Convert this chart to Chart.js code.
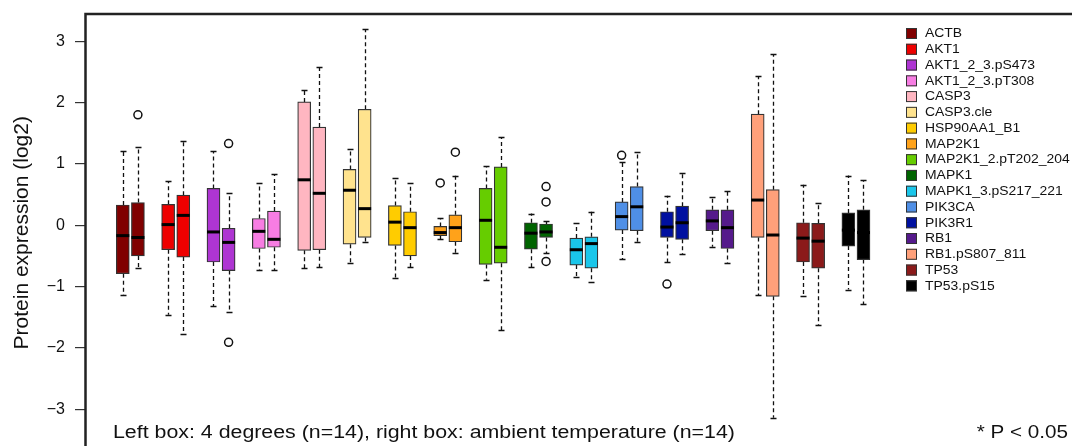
<!DOCTYPE html>
<html>
<head>
<meta charset="utf-8">
<script src="https://cdn.jsdelivr.net/npm/chart.js@4.4.0/dist/chart.umd.min.js"></script>
<style>
  html, body { margin: 0; padding: 0; background: #fff; overflow: hidden; }
  #wrap { width: 1072px; height: 446px; overflow: hidden; }
  canvas { display: block; }
</style>
</head>
<body>
<div id="wrap"><canvas id="boxChart" width="1090" height="457"></canvas></div>
<script>
// Proteins and their colours
const proteins = ['ACTB', 'AKT1', 'AKT1_2_3.pS473', 'AKT1_2_3.pT308', 'CASP3', 'CASP3.cle',
    'HSP90AA1_B1', 'MAP2K1', 'MAP2K1_2.pT202_204', 'MAPK1', 'MAPK1_3.pS217_221',
    'PIK3CA', 'PIK3R1', 'RB1', 'RB1.pS807_811', 'TP53', 'TP53.pS15'];
const boxColors = ['#800000', '#EE0000', '#AE35D2', '#F77DE3', '#FFB6C1', '#FFE38E',
    '#FFCC00', '#FFA21A', '#66CD00', '#006400', '#1AC6EA',
    '#4F8FE6', '#0010A0', '#551A8B', '#FFA07A', '#8B1A1A', '#000000'];

// Left box: 4 degrees
const coldLow = [-1.14, -1.46, -1.32, -0.73, -0.70, -0.61, -0.86, -0.23, -0.89, -0.68, -0.84, -0.55, -0.60, -0.35, -1.14, -1.16, -1.05];
const coldQ1 = [-0.79, -0.40, -0.60, -0.38, -0.41, -0.31, -0.33, -0.17, -0.64, -0.39, -0.65, -0.08, -0.20, -0.09, -0.20, -0.60, -0.34];
const coldMed = [-0.17, 0.01, -0.11, -0.10, 0.74, 0.57, 0.05, -0.12, 0.08, -0.13, -0.40, 0.14, -0.03, 0.07, 0.41, -0.21, -0.08];
const coldQ3 = [0.33, 0.34, 0.60, 0.11, 2.01, 0.91, 0.32, -0.02, 0.60, 0.04, -0.21, 0.38, 0.22, 0.25, 1.81, 0.04, 0.20];
const coldHigh = [1.21, 0.72, 1.21, 0.69, 2.20, 1.24, 0.77, 0.11, 0.96, 0.19, 0.03, 1.03, 0.48, 0.46, 2.43, 0.66, 0.81];
const coldOutliers = [[], [], [], [], [], [], [], [0.69], [], [], [], [1.14], [-0.96], [], [], [], []];

// Right box: ambient temperature
const ambLow = [-0.70, -1.77, -1.41, -0.73, -0.68, -0.27, -0.68, -0.45, -1.71, -0.46, -0.92, -0.27, -0.47, -0.62, -3.14, -1.63, -1.29];
const ambQ1 = [-0.50, -0.52, -0.74, -0.36, -0.40, -0.20, -0.50, -0.27, -0.62, -0.20, -0.70, -0.09, -0.23, -0.38, -1.16, -0.70, -0.56];
const ambMed = [-0.20, 0.16, -0.28, -0.23, 0.52, 0.27, -0.04, -0.04, -0.36, -0.11, -0.30, 0.30, 0.04, -0.04, -0.16, -0.26, -0.12];
const ambQ3 = [0.37, 0.49, -0.05, 0.23, 1.60, 1.89, 0.22, 0.17, 0.95, 0.02, -0.19, 0.63, 0.31, 0.25, 0.58, 0.03, 0.25];
const ambHigh = [1.27, 1.37, 0.52, 0.83, 2.58, 3.20, 0.68, 0.81, 1.43, 0.07, 0.22, 1.20, 0.85, 0.55, 2.79, 0.36, 0.73];
const ambOutliers = [[1.80], [], [1.33, -1.91], [], [], [], [], [1.19], [], [0.63, 0.38, -0.59], [], [], [], [], [], [], []];

const yTicks = [-3, -2, -1, 0, 1, 2, 3];

const FONT = "'Liberation Sans', Arial, Helvetica, sans-serif";
Chart.defaults.font.family = FONT;
Chart.defaults.color = '#111';

// each protein gets two slots (left/right) plus one empty slot
const boxes = [];
const outlierPoints = [];
proteins.forEach((p, i) => {
    const sides = [
        [coldLow, coldQ1, coldMed, coldQ3, coldHigh, coldOutliers],
        [ambLow, ambQ1, ambMed, ambQ3, ambHigh, ambOutliers]
    ];
    sides.forEach((s, k) => {
        const x = i * 3 + 1 + k;
        boxes.push({ x: x, lo: s[0][i], q1: s[1][i], med: s[2][i], q3: s[3][i], hi: s[4][i], color: boxColors[i] });
        s[5][i].forEach(v => outlierPoints.push({ x: x, y: v }));
    });
});

const BOX_W = 13;

// the source figure is a bit wider than Arial, so texts get a small x-stretch
function wideText(ctx, text, x, y, sx, align) {
    ctx.save();
    ctx.translate(x, y);
    ctx.scale(sx, 1);
    ctx.textAlign = align || 'left';
    ctx.fillText(text, 0, 0);
    ctx.restore();
}

const boxPlotPlugin = {
    id: 'boxParts',
    beforeDatasetsDraw(chart) {
        const { ctx, scales: { x, y } } = chart;
        ctx.save();
        ctx.strokeStyle = '#111';
        ctx.lineWidth = 1.3;
        boxes.forEach(b => {
            const px = Math.round(x.getPixelForValue(b.x)) + 0.5;
            ctx.setLineDash([4, 3]);
            ctx.beginPath();
            ctx.moveTo(px, y.getPixelForValue(b.q3));
            ctx.lineTo(px, y.getPixelForValue(b.hi));
            ctx.moveTo(px, y.getPixelForValue(b.q1));
            ctx.lineTo(px, y.getPixelForValue(b.lo));
            ctx.stroke();
            ctx.setLineDash([]);
            ctx.beginPath();
            [b.hi, b.lo].forEach(v => {
                const py = Math.round(y.getPixelForValue(v)) + 0.5;
                ctx.moveTo(px - 3, py);
                ctx.lineTo(px + 3, py);
            });
            ctx.stroke();
        });
        ctx.restore();
    },
    afterDatasetsDraw(chart) {
        const { ctx, scales: { x, y } } = chart;
        ctx.save();
        ctx.strokeStyle = '#000';
        ctx.lineWidth = 3;
        boxes.forEach(b => {
            const px = x.getPixelForValue(b.x);
            const py = y.getPixelForValue(b.med);
            ctx.beginPath();
            ctx.moveTo(px - BOX_W / 2, py);
            ctx.lineTo(px + BOX_W / 2, py);
            ctx.stroke();
        });
        ctx.restore();
    },
    afterDraw(chart) {
        const { ctx, chartArea: a } = chart;
        ctx.save();
        // plot frame (right and bottom edges fall outside the picture)
        ctx.strokeStyle = '#222';
        ctx.lineWidth = 2.5;
        ctx.strokeRect(a.left - 0.5, a.top, a.right - a.left + 20, a.bottom - a.top + 20);

        // legend
        ctx.font = '12px ' + FONT;
        ctx.textBaseline = 'middle';
        proteins.forEach((p, i) => {
            const ly = 28 + i * 15.77;
            ctx.fillStyle = boxColors[i];
            ctx.fillRect(906, ly, 11, 11);
            ctx.strokeStyle = '#333';
            ctx.lineWidth = 1;
            ctx.strokeRect(906.5, ly + 0.5, 10, 10);
            ctx.fillStyle = '#111';
            wideText(ctx, p, 925, ly + 6, 1.16);
        });

        // notes
        ctx.font = '17.5px ' + FONT;
        ctx.textBaseline = 'alphabetic';
        ctx.fillStyle = '#111';
        wideText(ctx, 'Left box: 4 degrees (n=14), right box: ambient temperature (n=14)', 113, 438, 1.22);
        wideText(ctx, '* P < 0.05', 1068, 438, 1.18, 'right');
        ctx.restore();
    }
};

new Chart(document.getElementById('boxChart'), {
    type: 'bar',
    data: {
        datasets: [
            {
                type: 'bar',
                data: boxes.map(b => ({ x: b.x, y: [b.q1, b.q3] })),
                backgroundColor: boxes.map(b => b.color),
                borderColor: '#333',
                borderWidth: 1.2,
                borderSkipped: false,
                barThickness: BOX_W,
                grouped: false
            },
            {
                type: 'scatter',
                data: outlierPoints,
                pointStyle: 'circle',
                pointRadius: 4,
                pointBackgroundColor: 'rgba(0,0,0,0)',
                pointBorderColor: '#111',
                pointBorderWidth: 1.5
            }
        ]
    },
    options: {
        responsive: false,
        animation: false,
        layout: { padding: { top: 14, right: 0, bottom: 0, left: 0 } },
        plugins: { legend: { display: false }, tooltip: { enabled: false } },
        scales: {
            x: {
                type: 'linear',
                display: false,
                offset: false,
                min: -1.434,
                max: 64.62
            },
            y: {
                type: 'linear',
                min: -3.689,
                max: 3.443,
                afterFit(scale) {
                    scale.width = 86;
                    scale.paddingTop = 0;
                    scale.paddingBottom = 0;
                },
                afterBuildTicks(scale) { scale.ticks = yTicks.map(v => ({ value: v })); },
                border: { display: false },
                grid: { drawOnChartArea: false, drawTicks: true, tickLength: 11, color: '#333', lineWidth: 1.2 },
                ticks: {
                    padding: 10,
                    color: '#111',
                    font: { size: 16 },
                    callback: v => v < 0 ? '\u2212' + Math.abs(v) : String(v)
                },
                title: {
                    display: true,
                    text: 'Protein expression (log2)',
                    color: '#111',
                    font: { size: 21 },
                    padding: { top: 10, bottom: 0 }
                }
            }
        }
    },
    plugins: [boxPlotPlugin]
});
</script>
</body>
</html>
